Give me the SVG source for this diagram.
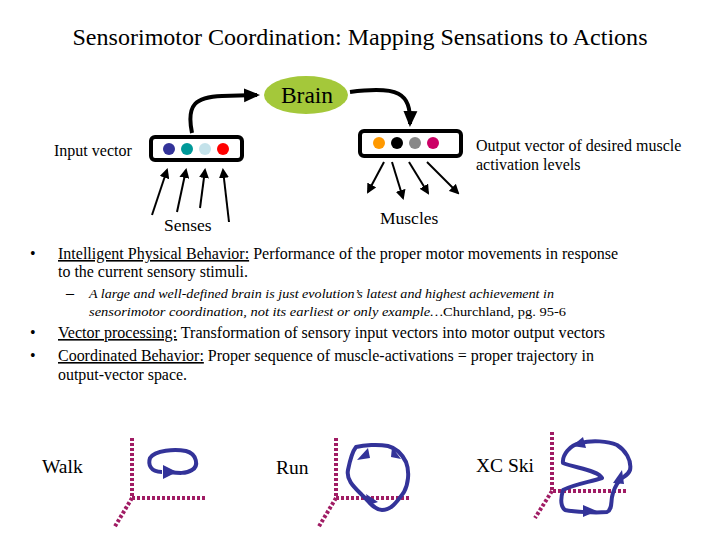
<svg xmlns="http://www.w3.org/2000/svg" width="720" height="540" viewBox="0 0 720 540" font-family="'Liberation Serif', 'DejaVu Serif', 'Times New Roman', serif">
<style>
text{font-family:"Liberation Serif","DejaVu Serif","Times New Roman",serif;fill:#000}
.t{font-size:24px}
.b{font-size:16px}
.i{font-size:13.5px;font-style:italic}
.s{font-size:16px}
.l{font-size:17.5px}
.g{font-size:19.5px}
.u{text-decoration:underline}
.box{fill:#fff;stroke:#000;stroke-width:4}
.thin{stroke:#000;stroke-width:2;fill:none}
.thick{stroke:#000;stroke-width:4;fill:none}
.ax{stroke:#a01c64;stroke-width:4;stroke-dasharray:3 2;fill:none}
.loop{stroke:#333399;stroke-width:4;fill:none;stroke-linejoin:round}
.ah{fill:#333399}
</style>
<defs>
<marker id="a" markerWidth="10" markerHeight="10" refX="8" refY="5" orient="auto" markerUnits="userSpaceOnUse"><path d="M0,0 L10,5 L0,10 Z" fill="#000"/></marker>
<marker id="A" markerWidth="16" markerHeight="16" refX="13" refY="8" orient="auto" markerUnits="userSpaceOnUse"><path d="M0,1 L16,8 L0,15 Z" fill="#000"/></marker>
</defs>
<text class="t" x="360" y="45" text-anchor="middle" textLength="575" lengthAdjust="spacingAndGlyphs">Sensorimotor Coordination: Mapping Sensations to Actions</text>

<g id="connectors">
<path class="thick" d="M192,133 C186,104 196,97 222,96 L257,95" marker-end="url(#A)"/>
<path class="thick" d="M350,92 C398,86 411,92 410,124" marker-end="url(#A)"/>
<line class="thin" x1="152" y1="215" x2="167" y2="170" marker-end="url(#a)"/>
<line class="thin" x1="177" y1="212" x2="186" y2="170" marker-end="url(#a)"/>
<line class="thin" x1="200" y1="208" x2="205" y2="170" marker-end="url(#a)"/>
<line class="thin" x1="229" y1="222" x2="223" y2="170" marker-end="url(#a)"/>
<line class="thin" x1="384" y1="162" x2="368" y2="192" marker-end="url(#a)"/>
<line class="thin" x1="392" y1="162" x2="403" y2="198" marker-end="url(#a)"/>
<line class="thin" x1="409" y1="162" x2="428" y2="193" marker-end="url(#a)"/>
<line class="thin" x1="427" y1="162" x2="458" y2="193" marker-end="url(#a)"/>
</g>

<g id="brain">
<ellipse cx="306" cy="95" rx="42" ry="19" fill="#a4c83a"/>
<text x="307" y="103" font-size="23.5" text-anchor="middle">Brain</text>
</g>

<g id="input-vector">
<rect class="box" x="151" y="137" width="91" height="23" rx="4"/>
<circle cx="169" cy="149" r="6" fill="#333399"/>
<circle cx="187" cy="149" r="6" fill="#009999"/>
<circle cx="205" cy="149" r="6" fill="#c4e2ea"/>
<circle cx="223" cy="149" r="6" fill="#ff0000"/>
<text class="s" x="54" y="156">Input vector</text>
</g>

<g id="output-vector">
<rect class="box" x="360" y="131" width="101" height="25" rx="4"/>
<circle cx="379" cy="143" r="6" fill="#ff9900"/>
<circle cx="397" cy="143" r="6" fill="#000"/>
<circle cx="415" cy="143" r="6" fill="#888888"/>
<circle cx="433" cy="143" r="6" fill="#cc0066"/>
<text class="s" x="476" y="151">Output vector of desired muscle</text>
<text class="s" x="476" y="170">activation levels</text>
</g>

<g id="senses"><text class="l" x="164" y="231">Senses</text></g>
<g id="muscles"><text class="l" x="380" y="224">Muscles</text></g>

<g id="bullets">
<text class="b" x="30" y="259">•</text>
<text class="b" x="58" y="259" textLength="560" lengthAdjust="spacingAndGlyphs"><tspan class="u">Intelligent Physical Behavior:</tspan> Performance of the proper motor movements in response</text>
<text class="b" x="58" y="277" textLength="190" lengthAdjust="spacingAndGlyphs">to the current sensory stimuli.</text>
<text class="b" x="66" y="298">–</text>
<text class="i" x="89" y="298" textLength="465" lengthAdjust="spacingAndGlyphs">A large and well-defined brain is just evolution’s latest and highest achievement in</text>
<text class="i" x="89" y="316" textLength="477" lengthAdjust="spacingAndGlyphs">sensorimotor coordination, not its earliest or only example…<tspan font-style="normal">Churchland, pg. 95-6</tspan></text>
<text class="b" x="30" y="338">•</text>
<text class="b" x="58" y="338" textLength="547" lengthAdjust="spacingAndGlyphs"><tspan class="u">Vector processing:</tspan> Transformation of sensory input vectors into motor output vectors</text>
<text class="b" x="30" y="361">•</text>
<text class="b" x="58" y="361" textLength="536" lengthAdjust="spacingAndGlyphs"><tspan class="u">Coordinated Behavior:</tspan> Proper sequence of muscle-activations = proper trajectory in</text>
<text class="b" x="58" y="380" textLength="129" lengthAdjust="spacingAndGlyphs">output-vector space.</text>
</g>

<g id="walk">
<text class="g" x="42" y="473">Walk</text>
<path class="ax" d="M132,438 V498 H207 M132,498 L114,528"/>
<path class="loop" d="M162,472 C150,472 148,464 150,458 C155,450 175,449 186,451 C197,454 199,466 192,470 C186,474 178,473 170,472"/>
<path class="ah" d="M163,465 L177,472 L163,479 Z"/>
</g>

<g id="run">
<text class="g" x="276" y="474">Run</text>
<path class="ax" d="M336,438 V498 H410 M336,498 L318,528"/>
<path class="loop" d="M356,447 C364,445 378,444 388,446 C396,448 402,454 406,462 C410,472 408,485 404,492 C398,500 392,510 382,510 C374,510 368,500 362,495 C354,487 346,480 348,470 C350,460 352,452 356,447 Z"/>
<path class="ah" d="M357,460 L368,448 L370,458 Z"/>
<path class="ah" d="M392,447 L401,459 L391,457 Z"/>
<path class="ah" d="M366,494 L378,502 L369,505 Z"/>
</g>

<g id="xcski">
<text class="g" x="476" y="472">XC Ski</text>
<path class="ax" d="M552,432 V491 H627 M552,491 L535,518"/>
<path class="loop" d="M563,463 C562,455 570,445 580,443 C592,440 608,441 617,445 C625,450 632,460 630,470 C628,476 622,477 620,480 C614,487 613,492 612,497 C611,503 612,510 607,512 C595,513 575,512 565,510 C560,506 561,497 563,490 C575,484 590,482 602,478 C598,470 575,468 563,463 Z"/>
<path class="ah" d="M583,437 L572,446 L586,448 Z"/>
<path class="ah" d="M613,483 L622,470 L624,484 Z"/>
<path class="ah" d="M583,505 L597,511 L583,517 Z"/>
</g>
</svg>
